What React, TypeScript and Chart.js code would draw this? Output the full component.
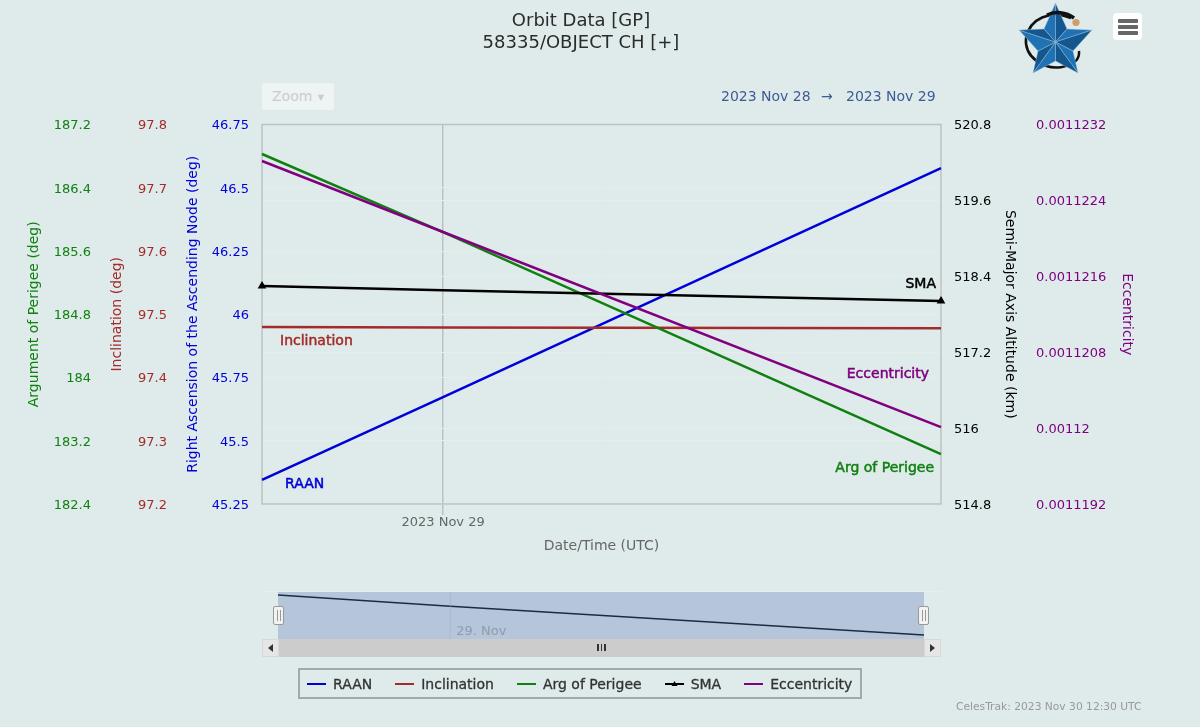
import React, { useEffect, useRef } from "react";
import Chart from "chart.js/auto";

// hours since 2023 Nov 28 00:00 UTC
const hours = [16, 24, 46];
const raan = [45.345, 45.672, 46.578];
const inclination = [97.48, 97.479, 97.478];
const argPerigee = [186.827, 185.84, 183.032];
const sma = [518.247, 518.18, 518.01];
const eccentricity = [0.001122815, 0.001122067, 0.00112001];

const raanTicks = [45.25, 45.5, 45.75, 46, 46.25, 46.5, 46.75];
const inclinationTicks = [97.2, 97.3, 97.4, 97.5, 97.6, 97.7, 97.8];
const argPerigeeTicks = [182.4, 183.2, 184, 184.8, 185.6, 186.4, 187.2];
const smaTicks = [514.8, 516, 517.2, 518.4, 519.6, 520.8];
const eccentricityTicks = [0.0011192, 0.00112, 0.0011208, 0.0011216, 0.0011224, 0.0011232];

const seriesNames = ["RAAN", "Inclination", "Arg of Perigee", "SMA", "Eccentricity"];
const seriesColors = ["#0000d8", "#a52a2a", "#108010", "#000000", "#800080"];

const FONT = '"DejaVu Sans", sans-serif';
const BG = "#deebea";

const yAxis = (
	ticks: number[],
	position: string,
	weight: number,
	width: number,
	title: string,
	titlePad: number,
	color: string,
	grid: boolean,
) => ({
	type: "linear",
	position,
	weight,
	min: ticks[0],
	max: ticks[ticks.length - 1],
	afterBuildTicks: (axis: any) => {
		axis.ticks = ticks.map((value) => ({ value }));
	},
	afterFit: (axis: any) => {
		axis.width = width;
	},
	border: { display: false },
	grid: { display: grid, drawTicks: false, color: "#e3eeed", lineWidth: 1 },
	ticks: {
		color,
		padding: 13,
		labelOffset: 1.5,
		autoSkip: false,
		font: { family: FONT, size: 13 },
		callback: (v: any) => String(v),
	},
	title: {
		display: true,
		text: title,
		color,
		padding: { top: titlePad, bottom: 0 },
		font: { family: FONT, size: 14 },
	},
});

const seriesLabels = {
	id: "seriesLabels",
	afterDatasetsDraw(chart: any) {
		const ctx = chart.ctx;
		// where each name sits relative to the first or last point of its line
		const spots = [
			{ point: 0, dx: 23, dy: 4, align: "left" },
			{ point: 0, dx: 18, dy: 14, align: "left" },
			{ point: 2, dx: -7, dy: 14, align: "right" },
			{ point: 2, dx: -5, dy: -17, align: "right" },
			{ point: 2, dx: -12, dy: -53, align: "right" },
		];
		ctx.save();
		ctx.font = `14px ${FONT}`;
		ctx.textBaseline = "middle";
		ctx.lineWidth = 0.5;
		spots.forEach((s, i) => {
			const p = chart.getDatasetMeta(i).data[s.point];
			ctx.textAlign = s.align;
			ctx.fillStyle = seriesColors[i];
			ctx.strokeStyle = seriesColors[i];
			ctx.fillText(seriesNames[i], p.x + s.dx, p.y + s.dy);
			ctx.strokeText(seriesNames[i], p.x + s.dx, p.y + s.dy);
		});
		ctx.restore();
	},
};

const plotBorder = {
	id: "plotBorder",
	beforeDatasetsDraw(chart: any) {
		const { ctx, chartArea: a } = chart;
		ctx.save();
		ctx.strokeStyle = "#bcc2c2";
		ctx.lineWidth = 1.5;
		ctx.strokeRect(a.left, a.top, a.right - a.left, a.bottom - a.top);
		ctx.restore();
	},
};

const navTick = {
	id: "navTick",
	afterDatasetsDraw(chart: any) {
		const { ctx, chartArea: a } = chart;
		const x = chart.scales.x.getPixelForValue(24);
		ctx.save();
		ctx.strokeStyle = "rgba(160,175,195,0.5)";
		ctx.beginPath();
		ctx.moveTo(x, a.top);
		ctx.lineTo(x, a.bottom);
		ctx.stroke();
		ctx.fillStyle = "#8f9bab";
		ctx.font = `13px ${FONT}`;
		ctx.textBaseline = "middle";
		ctx.fillText("29. Nov", x + 6, 40);
		ctx.restore();
	},
};

const box = (left: number, top: number, width: number, height: number, extra = {}) =>
	({ position: "absolute", left, top, width, height, boxSizing: "border-box", ...extra }) as React.CSSProperties;

const starPoints = [
	[1055.5, 3],
	[1092, 30],
	[1078, 73],
	[1033, 73],
	[1019, 30],
];
const starInner = [
	[1067, 29],
	[1073, 51],
	[1055.5, 61],
	[1038, 51],
	[1044, 29],
];
const starCentre = [1055.5, 42];

const Logo = () => (
	<svg style={box(0, 0, 1200, 80, { pointerEvents: "none" })} viewBox="0 0 1200 80">
		<path d="M1071 18 C1050 10 1030 18 1026 38 C1024 58 1045 70 1062 67 C1072 65 1080 60 1079 51" fill="none" stroke="#111" strokeWidth="2.5" />
		{starPoints.map((p, i) => {
			const prev = starInner[(i + 4) % 5];
			const next = starInner[i];
			return (
				<g key={i} stroke="#a9c4dc" strokeWidth="0.4">
					<polygon points={`${starCentre} ${prev} ${p}`} fill="#1f72b4" />
					<polygon points={`${starCentre} ${p} ${next}`} fill="#14578f" />
				</g>
			);
		})}
		<path d="M1047 15 C1055 11 1066 12 1074 18" fill="none" stroke="#111" strokeWidth="3.5" />
		<circle cx="1076" cy="22.5" r="3.6" fill="#cf9e66" />
	</svg>
);

const Handle = ({ left }: { left: number }) => (
	<div style={box(left, 606, 11, 19, { background: "#f2f2f2", border: "1px solid #999", borderRadius: 2 })}>
		<div style={box(3, 3, 1, 11, { background: "#999" })} />
		<div style={box(5.5, 3, 1, 11, { background: "#999" })} />
	</div>
);

const ScrollButton = ({ left, dir }: { left: number; dir: "l" | "r" }) => (
	<div style={box(left, 639, 17, 18, { background: "#e6e6e6", border: "1px solid #d8d8d8" })}>
		<div
			style={box(5, 4, 0, 0, {
				borderTop: "4px solid transparent",
				borderBottom: "4px solid transparent",
				[dir === "l" ? "borderRight" : "borderLeft"]: "5px solid #333",
			})}
		/>
	</div>
);

const App = () => {
	const mainRef = useRef<HTMLCanvasElement>(null);
	const navRef = useRef<HTMLCanvasElement>(null);

	useEffect(() => {
		const series = [raan, inclination, argPerigee, sma, eccentricity];
		const axisIds = ["yRaan", "yInc", "yArg", "ySma", "yEcc"];

		const chart = new Chart(mainRef.current!, {
			type: "line",
			data: {
				datasets: series.map((values, i) => ({
					label: seriesNames[i],
					data: values.map((y, k) => ({ x: hours[k], y })),
					yAxisID: axisIds[i],
					borderColor: seriesColors[i],
					backgroundColor: seriesColors[i],
					borderWidth: 2.5,
					tension: 0,
					order: 4 - i,
					clip: false,
					pointStyle: "triangle",
					pointRadius: seriesNames[i] === "SMA" ? [2.5, 0, 2.5] : 0,
				})),
			},
			options: {
				responsive: false,
				animation: false,
				events: [],
				layout: { padding: { top: 0, left: 0, right: 38, bottom: 163 } },
				plugins: {
					legend: { display: false },
					tooltip: { enabled: false },
					title: {
						display: true,
						text: ["Orbit Data [GP]", "58335/OBJECT CH [+]"],
						color: "#2b2b2b",
						padding: { top: 10, bottom: 70.5 },
						font: { family: FONT, size: 18, weight: "normal", lineHeight: 22 / 18 },
					},
				},
				scales: {
					x: {
						type: "linear",
						min: hours[0],
						max: hours[hours.length - 1],
						afterBuildTicks: (axis: any) => {
							axis.ticks = [{ value: hours[1] }];
						},
						afterFit: (axis: any) => {
							axis.height = 60;
						},
						border: { display: false },
						grid: { color: "#bcc2c2", tickLength: 11, lineWidth: 1.5 },
						ticks: {
							color: "#666666",
							padding: 0,
							maxRotation: 0,
							font: { family: FONT, size: 13 },
							callback: () => "2023 Nov 29",
						},
						title: {
							display: true,
							text: "Date/Time (UTC)",
							color: "#666666",
							padding: { top: 0, bottom: 9.6 },
							font: { family: FONT, size: 14 },
						},
					},
					yRaan: yAxis(raanTicks, "left", 0, 82, "Right Ascension of the Ascending Node (deg)", 4.6, seriesColors[0], true),
					yInc: yAxis(inclinationTicks, "left", 1, 76, "Inclination (deg)", 4.6, seriesColors[1], false),
					yArg: yAxis(argPerigeeTicks, "left", 2, 104, "Argument of Perigee (deg)", 25.6, seriesColors[2], false),
					ySma: yAxis(smaTicks, "right", 0, 82, "Semi-Major Axis Altitude (km)", 4.6, "#000000", true),
					yEcc: yAxis(eccentricityTicks, "right", 1, 139, "Eccentricity", 26.6, seriesColors[4], false),
				} as any,
			},
			plugins: [plotBorder, seriesLabels],
		} as any);

		const nav = new Chart(navRef.current!, {
			type: "line",
			data: {
				datasets: [
					{
						data: sma.map((y, k) => ({ x: hours[k], y })),
						borderColor: "#1c2b45",
						borderWidth: 1.4,
						pointRadius: 0,
						tension: 0,
					},
				],
			},
			options: {
				responsive: false,
				animation: false,
				events: [],
				layout: { padding: 0 },
				plugins: { legend: { display: false }, tooltip: { enabled: false } },
				scales: {
					x: { type: "linear", display: false, min: hours[0], max: hours[hours.length - 1] },
					y: { type: "linear", display: false, min: 517.986, max: 518.265 },
				},
			},
			plugins: [navTick],
		} as any);

		return () => {
			chart.destroy();
			nav.destroy();
		};
	}, []);

	return (
		<div style={box(0, 0, 1200, 727, { background: BG, overflow: "hidden", fontFamily: FONT })}>
			<canvas ref={mainRef} width={1200} height={727} style={box(0, 0, 1200, 727)} />

			<Logo />
			<div style={box(1113, 13, 29, 27, { background: "#ffffff", borderRadius: 4 })}>
				<div style={box(5, 5.5, 20, 4, { background: "#666", borderRadius: 1 })} />
				<div style={box(5, 11.5, 20, 4, { background: "#666", borderRadius: 1 })} />
				<div style={box(5, 17.5, 20, 4, { background: "#666", borderRadius: 1 })} />
			</div>

			<div style={box(262, 83, 72, 27, { background: "#eef3f3", borderRadius: 2, color: "#cccccc", fontSize: 14, lineHeight: "27px", paddingLeft: 10 })}>
				Zoom <span style={{ fontSize: 8, verticalAlign: 1, marginLeft: 1 }}>▼</span>
			</div>
			<div style={box(721, 87, 100, 18, { color: "#3d5c94", fontSize: 14, lineHeight: "18px", whiteSpace: "nowrap" })}>2023 Nov 28</div>
			<div style={box(821, 87, 16, 18, { color: "#3d5c94", fontSize: 14, lineHeight: "18px" })}>→</div>
			<div style={box(846, 87, 100, 18, { color: "#3d5c94", fontSize: 14, lineHeight: "18px", whiteSpace: "nowrap" })}>2023 Nov 29</div>

			<div style={box(262, 591, 679, 1, { background: "#e6eeee" })} />
			<div style={box(278, 592, 646, 47, { background: "#b5c6da" })} />
			<canvas ref={navRef} width={646} height={47} style={box(278, 592, 646, 47)} />
			<Handle left={273} />
			<Handle left={918} />
			<div style={box(278, 639, 646, 18, { background: "#cccccc" })}>
				<div style={box(319, 5, 1.5, 7, { background: "#333" })} />
				<div style={box(322.5, 5, 1.5, 7, { background: "#333" })} />
				<div style={box(326, 5, 1.5, 7, { background: "#333" })} />
			</div>
			<ScrollButton left={262} dir="l" />
			<ScrollButton left={924} dir="r" />

			<div
				style={box(298, 668, 564, 31, {
					border: "2px solid #a3a9a9",
					display: "flex",
					alignItems: "center",
					gap: 23,
					paddingLeft: 7,
					paddingTop: 1,
					color: "#333333",
					fontSize: 14,
					whiteSpace: "nowrap",
				})}
			>
				{seriesNames.map((name, i) => (
					<div key={name} style={{ display: "flex", alignItems: "center", gap: 7 }}>
						<svg width={19} height={8} style={{ display: "block" }}>
							<line x1={0} x2={19} y1={4} y2={4} stroke={seriesColors[i]} strokeWidth={2} />
							{name === "SMA" && <polygon points="9.5,1 12.5,6 6.5,6" fill="#000" />}
						</svg>
						<span style={{ WebkitTextStroke: "0.3px #333" }}>{name}</span>
					</div>
				))}
			</div>

			<div style={box(956, 699, 200, 15, { color: "#999999", fontSize: 10.7, lineHeight: "15px", whiteSpace: "nowrap" })}>
				CelesTrak: 2023 Nov 30 12:30 UTC
			</div>
		</div>
	);
};

export default App;
